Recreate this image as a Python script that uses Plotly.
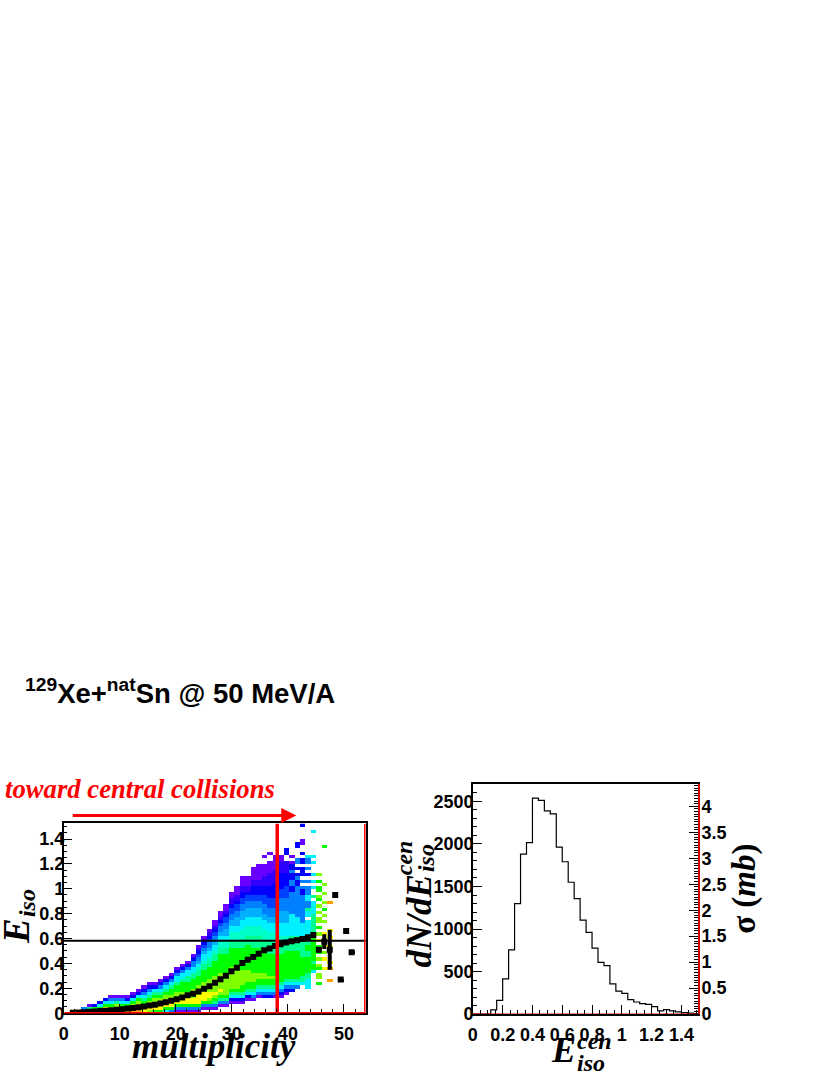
import plotly.graph_objects as go

W, H = 830, 1075
# page offset seen in the photographed output
OFF_X, OFF_Y = -4, 8.7

# left panel: colour level per multiplicity bin, read upward from a start row
# blank = empty cell, letters are the in-between shades
bin_start_rows = [0,0,0,0,0,0,0,0,0,0,0,0,0,0,0,0,0,0,0,0,0,0,0,0,0,1,1,1,2,2,3,3,3,4,4,5,5,5,5,5,6,7,8,9,8,13,9,14,14]
bin_levels = [
    "", "9", "8", "83", "951", "962", "9642", "98642", "986431", "987531", "986431",
    "986421", "9876421", "98876421", "887654321", "7887654321", "6887765421",
    "68877654321", "468877654321", "3688776654321", "136887766544321",
    "1368877666544321", "13688776665544321", "1368877766655443321",
    "13688877766655e4d3c2a1", "136888777666655e44d3c2a1",
    "1367887777666655e44d33c2a1", "135678777776666655e44d33c2a11",
    "1356787777766666655ee44d33c2a11", "1356777777766666655ee44dd33cc2a11",
    "12456777777766666655eee44dd33cc2aa11", "12456777777666666655eee44ddd33cc2aa111",
    "124566777776666666555eee444ddd33cc22aa111", "124566777766666666555eee444ddd33cc2aa111",
    "134566777666666665555eee444ddd33cc222aa1111", "13456677666666665555eee444ddd33cc222aa11111",
    "2345667766666665555eee444dd333ccc222aaa1111", "234566766666665555eee444dd333ccc2222aaaa111",
    "134566766666665555eee444dd333ccc22222aaaa11111", "12345666666666555eee4444dddd3333ccc22222aaaa11",
    "12345666666666555ee4444dddd3333cccc2222aaaa", "234566666666655555444444433333332233223221",
    "3456666666665555544444433333333332232 2 33", "45566666655555444444333333333223 3 222 22 2",
    "4445566666556655444444 4453344333 3 2 3 3", "46656666666655555554444 5  4 4 4",
    "6 77 67 7 666 8 7 6 77 7 7 66 66 6 7", "8  8 7 8 8 8   7 7 6 7  7  7", "9 8    8  8 8",
]
lone_bins = [36, 37, 37, 40, 40, 41, 42, 42, 43, 43, 43, 43, 44, 44, 45, 45, 45, 47, 46, 48, 48, 49, 50, 51, 52]
lone_rows = [50, 48, 51, 51, 52, 50, 53, 54, 54, 55, 60, 51, 50, 49, 50, 58, 48, 53, 37, 35, 10, 38, 10, 26, 19]
lone_levels = ["1", "1", "1", "2", "2", "1", "2", "2", "1", "1", "2", "2", "4", "3", "4", "4", "4", "6", "7", "9", "9", "0", "0", "9", "0"]
level_keys = "1a2c3d4e56789f0"
level_colors = ["#6a00ff", "#3000ff", "#0000ff", "#0040ff", "#0080ff", "#00b0ff", "#00f0ff", "#00ffc8",
                "#00ff90", "#00ff00", "#80ff00", "#ffff00", "#ffa000", "#ff0000", "#000000"]

bin_width = 0.975
row_height = 0.025
n_bins, n_rows = 55, 61

# profile (mean Eiso per multiplicity bin)
profile_bins = list(range(1, 49)) + [49, 50, 51, 52]
profile_mean = [.004, .006, .008, .011, .014, .017, .02, .024, .028, .032, .037, .042, .048, .054,
                .061, .068, .077, .087, .1, .112, .127, .144, .157, .175, .196, .217, .244, .273,
                .30, .337, .366, .403, .43, .451, .478, .505, .52, .54, .555, .568, .578, .586,
                .597, .61, .628, .51, .575, .51, .95, .27, .66, .49]
profile_err = [0]*44 + [.012, .02, .06, .16, 0, 0, 0, 0]
eiso_cut = 0.583
mult_cut = 38.1

# right panel histogram
hist_width = 0.04
hist_counts = [0, 0, 0, 50, 163, 415, 756, 1299, 1880, 2016, 2539, 2512, 2388, 2353, 1962, 1791,
               1550, 1357, 1105, 961, 776, 608, 570, 357, 271, 244, 170, 143, 124, 116, 89, 39,
               54, 39, 27, 19, 12, 8]
sigma_zero = [0, 0]


def px(x):
    return (x + OFF_X) / W


def py(y):
    return 1 - (y + OFF_Y) / H


z = [[None] * n_bins for _ in range(n_rows)]
for k, levels in enumerate(bin_levels):
    for i, c in enumerate(levels):
        if c != " ":
            z[bin_start_rows[k] + i][k] = level_keys.index(c)
for k, r, lev in zip(lone_bins, lone_rows, lone_levels):
    z[r][k] = level_keys.index(lev)

scale = []
for i, c in enumerate(level_colors):
    scale += [[i / len(level_colors), c], [(i + 1) / len(level_colors), c]]

bin_x = [(k + 0.5) * bin_width + 0.18 for k in range(n_bins)]
row_y = [(r + 0.5) * row_height for r in range(n_rows)]

fig = go.Figure()
fig.add_trace(go.Heatmap(x=bin_x, y=row_y, z=z, colorscale=scale, zmin=-0.5, zmax=len(level_colors) - 0.5,
                         showscale=False, hoverinfo="skip", xaxis="x", yaxis="y"))
fig.add_trace(go.Scatter(x=[bin_x[k] for k in profile_bins], y=profile_mean, mode="markers",
                         marker=dict(symbol="square", size=6, color="black"),
                         error_y=dict(type="data", array=profile_err, color="black", thickness=4, width=0),
                         xaxis="x", yaxis="y"))
fig.add_trace(go.Scatter(x=[0, 54], y=[eiso_cut, eiso_cut], mode="lines",
                         line=dict(color="black", width=2), xaxis="x", yaxis="y"))
fig.add_trace(go.Scatter(x=[mult_cut, mult_cut], y=[0, 1.525], mode="lines",
                         line=dict(color="#ff0000", width=3.5), xaxis="x", yaxis="y"))

edges = [hist_width * k for k in range(len(hist_counts) + 1)]
fig.add_trace(go.Scatter(x=edges, y=hist_counts + [hist_counts[-1]], mode="lines",
                         line=dict(color="black", width=1.2, shape="hv"), xaxis="x2", yaxis="y2"))
fig.add_trace(go.Scatter(x=[0, 1.51], y=sigma_zero, mode="lines",
                         line=dict(color="#ff0000", width=1.5), xaxis="x2", yaxis="y3", cliponaxis=False))

tick_font = dict(family="Liberation Sans", size=18, color="black", weight="bold")
axis_style = dict(showgrid=False, zeroline=False, ticks="inside", ticklen=9, tickwidth=1,
                  tickcolor="black", showline=True, linecolor="black", linewidth=1.5,
                  tickfont=tick_font)

fig.update_layout(
    width=W, height=H, margin=dict(l=0, r=0, t=0, b=0), autosize=False,
    paper_bgcolor="white", plot_bgcolor="white", showlegend=False,
    xaxis=dict(domain=[px(63), px(367)], range=[0, 53.9], dtick=10, anchor="y", mirror=True,
               ticklabelstandoff=3,
               minor=dict(dtick=2, ticks="inside", ticklen=4, tickcolor="black"), **axis_style),
    yaxis=dict(domain=[py(1014), py(822.5)], range=[0, 1.525], tickvals=[0, .2, .4, .6, .8, 1, 1.2, 1.4],
               ticktext=["0", "0.2", "0.4", "0.6", "0.8", "1", "1.2", "1.4"], anchor="x", mirror=True,
               ticklabelstandoff=-6,
               minor=dict(dtick=0.05, ticks="inside", ticklen=4, tickcolor="black"), **axis_style),
    xaxis2=dict(domain=[px(474.7), px(701)], range=[0, 1.51], tickvals=[0, .2, .4, .6, .8, 1, 1.2, 1.4],
                ticktext=["0", "0.2", "0.4", "0.6", "0.8", "1", "1.2", "1.4"], anchor="y2", mirror=True,
                ticklabelstandoff=3,
                minor=dict(dtick=0.05, ticks="inside", ticklen=4, tickcolor="black"), **axis_style),
    yaxis2=dict(domain=[py(1015), py(782.5)], range=[0, 2706], dtick=500, anchor="x2",
                ticklabelstandoff=-6,
                minor=dict(dtick=100, ticks="inside", ticklen=4, tickcolor="black"), **axis_style),
    yaxis3=dict(domain=[py(1015), py(782.5)], range=[0, 4.43], tickvals=[0, .5, 1, 1.5, 2, 2.5, 3, 3.5, 4],
                ticktext=["0", "0.5", "1", "1.5", "2", "2.5", "3", "3.5", "4"],
                anchor="x2", overlaying="y2", side="right", showgrid=False, zeroline=False, showline=True,
                linecolor="#d00000", linewidth=2, ticks="inside", ticklen=9, tickcolor="black", tickwidth=1,
                tickfont=tick_font, ticklabelstandoff=-2,
                minor=dict(dtick=0.05, ticks="inside", ticklen=4, tickcolor="black")),
)

# red edges of the left frame
fig.add_shape(type="line", xref="paper", yref="paper", x0=px(64), x1=px(366), y0=py(1013.5), y1=py(1013.5),
              line=dict(color="#ff0000", width=1.5))
fig.add_shape(type="line", xref="paper", yref="paper", x0=px(366), x1=px(366), y0=py(823), y1=py(1013.5),
              line=dict(color="#ff0000", width=1.5))


def label(x, y, text, size, color="black", angle=0, family="Liberation Serif"):
    fig.add_annotation(x=px(x), y=py(y), xref="paper", yref="paper", text=text, showarrow=False,
                       font=dict(family=family, size=size, color=color), textangle=angle,
                       xanchor="center", yanchor="middle")


label(180, 689, "<b><sup>129</sup>Xe+<sup>nat</sup>Sn @ 50 MeV/A</b>", 27.5, family="Liberation Sans")
label(140, 788, "<b><i>toward central collisions</i></b>", 26.7, color="#ff0000")
label(214, 1048, "<b><i>multiplicity</i></b>", 35)
label(16, 931, "<b><i>E</i></b>", 37, angle=-90)
label(26, 903, "<b><i>iso</i></b>", 24, angle=-90)
label(566, 1051, "<b><i>E</i></b>", 36)
label(597, 1042, "<b><i>cen</i></b>", 24)
label(594, 1064, "<b><i>iso</i></b>", 24)
label(421, 921, "<b><i>dN/dE</i></b>", 35, angle=-90)
label(405, 857, "<b><i>cen</i></b>", 24, angle=-90)
label(427, 857, "<b><i>iso</i></b>", 24, angle=-90)
label(748, 889, "<b>σ (<i>mb</i>)</b>", 33, angle=-90)

fig.add_annotation(x=px(297), y=py(814.5), xref="paper", yref="paper", ax=-225, ay=0, text="",
                   showarrow=True, arrowhead=2, arrowsize=1, arrowwidth=3, arrowcolor="#ff0000")

fig.write_html("out.html", post_script="document.body.style.margin='0'", config={"displayModeBar": False})
